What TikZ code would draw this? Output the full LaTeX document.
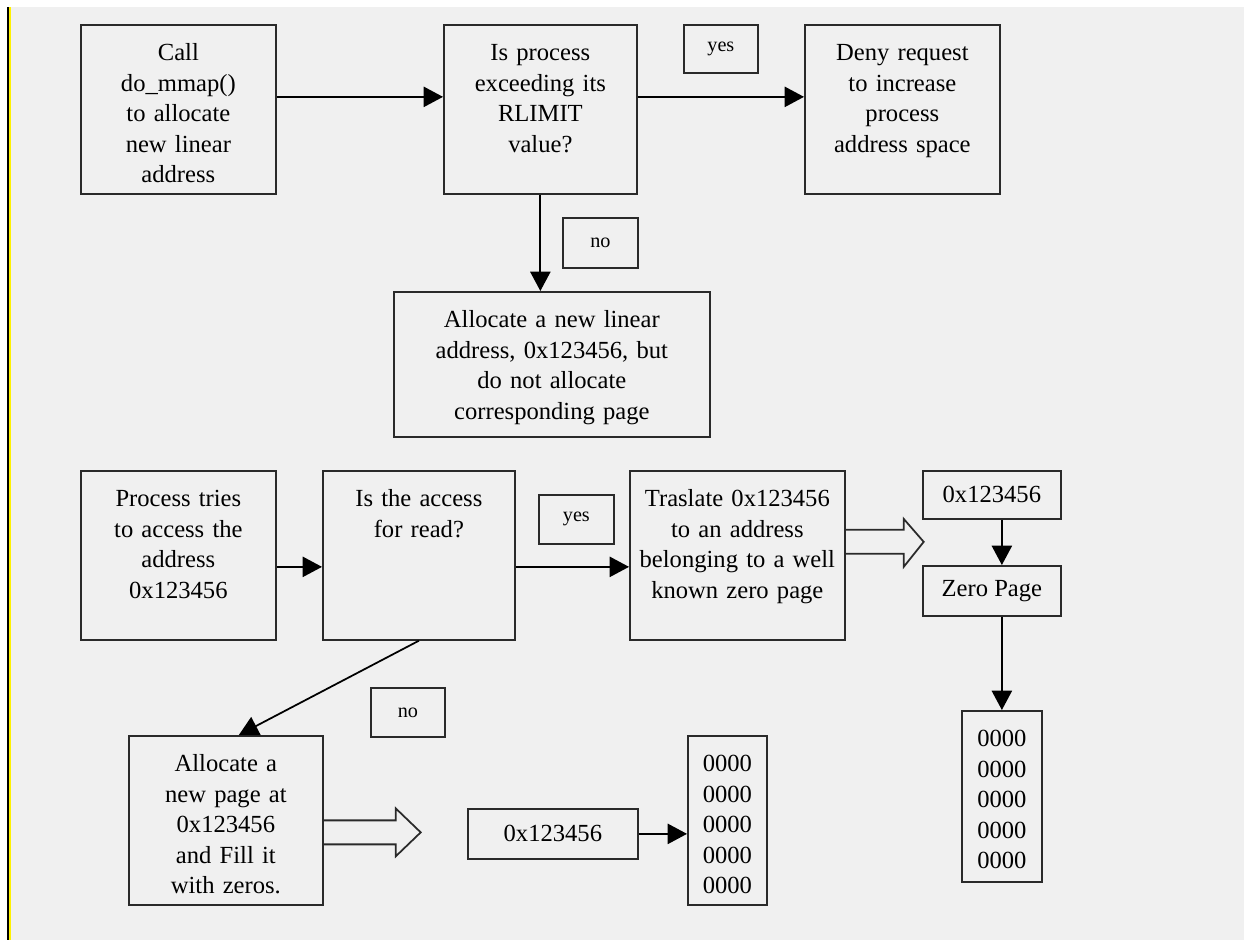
\documentclass[tikz,border=0pt]{standalone}
\usepackage{fontspec}
\setmainfont{Liberation Serif}
\usepackage{tikz}
\usetikzlibrary{arrows.meta,calc}

\definecolor{panel}{HTML}{F0F0F0}
\definecolor{edge}{HTML}{2A2A2A}

\begin{document}
\begin{tikzpicture}[x=0.02cm, y=-0.02cm,
  box/.style={draw=edge, line width=1pt, anchor=north west, align=center,
    inner sep=0pt, text height=0.72cm, font=\fontsize{14}{17.3}\selectfont},
  cell/.style={draw=edge, line width=1pt, anchor=north west, inner sep=0pt,
    font=\fontsize{14}{17.3}\selectfont},
  tag/.style={draw=edge, line width=1pt, anchor=north west, inner sep=0pt,
    font=\fontsize{11.5}{13}\selectfont},
  flow/.style={draw=black, line width=1pt, -{Triangle[length=11pt,width=11.5pt]}},
  hollow/.style={draw=edge, line width=1pt, line join=miter}]
  \useasboundingbox (0,0) rectangle (1244,940);
  \fill[white] (0,0) rectangle (1244,940);
  \fill[panel] (10,7) rectangle (1244,940);
  \fill[yellow] (8.5,7) rectangle (11,940);
  \fill[black] (7,7) rectangle (8.5,940);

  % mmap request
  \node[box, text width=3.9cm, text depth=2.66cm] (call) at (80,24)
    {Call\\do\_mmap()\\to allocate\\new linear\\address};
  \node[box, text width=3.86cm, text depth=2.66cm] (rlimit) at (443,24)
    {Is process\\exceeding its\\RLIMIT\\value?};
  \node[tag, minimum width=1.48cm, minimum height=0.96cm] (yes1) at (683,24) {yes};
  \node[box, text width=3.9cm, text depth=2.66cm] (deny) at (804,24)
    {Deny request\\to increase\\process\\address space};
  \node[tag, minimum width=1.5cm, minimum height=1cm] (no1) at (562,217) {no};
  \node[box, text width=6.32cm, text depth=2.18cm] (linear) at (393,291)
    {Allocate a new linear\\address, 0x123456, but\\do not allocate\\corresponding page};

  \draw[flow] ([yshift=0.25cm]call.east) -- ([yshift=0.25cm]rlimit.west);
  \draw[flow] ([yshift=0.25cm]rlimit.east) -- ([yshift=0.25cm]deny.west);
  \draw[flow] (rlimit.south) -- (rlimit.south |- linear.north);

  % access to the address
  \node[box, text width=3.9cm, text depth=2.66cm] (proc) at (80,470)
    {Process tries\\to access the\\address\\0x123456};
  \node[box, text width=3.84cm, text depth=2.66cm] (access) at (322,470)
    {Is the access\\for read?};
  \node[tag, minimum width=1.5cm, minimum height=0.98cm] (yes2) at (538,494) {yes};
  \node[box, text width=4.3cm, text depth=2.66cm] (trans) at (629,470)
    {Traslate 0x123456\\to an address\\belonging to a well\\known zero page};
  \node[cell, minimum width=2.76cm, minimum height=0.96cm] (addr1) at (922,470) {0x123456};
  \node[cell, minimum width=2.76cm, minimum height=1cm] (zpage) at (922,565) {Zero Page};
  \node[box, text width=1.6cm, text depth=2.7cm] (zeros1) at (961,710)
    {0000\\0000\\0000\\0000\\0000};
  \node[tag, minimum width=1.48cm, minimum height=0.98cm] (no2) at (370,687) {no};
  \node[box, text width=3.88cm, text depth=2.66cm] (page) at (128,735)
    {Allocate a\\new page at\\0x123456\\and Fill it\\with zeros.};
  \node[cell, minimum width=3.4cm, minimum height=1cm] (addr2) at (467,808) {0x123456};
  \node[box, text width=1.58cm, text depth=2.66cm] (zeros2) at (687,735)
    {0000\\0000\\0000\\0000\\0000};

  \draw[flow] ([yshift=-0.23cm]proc.east) -- ([yshift=-0.23cm]access.west);
  \draw[flow] ([yshift=-0.23cm]access.east) -- ([yshift=-0.23cm]trans.west);
  \draw[flow] (access.south) -- ([xshift=0.26cm]page.north);
  \draw[flow] (addr1.south -| zeros1.north) -- (zpage.north -| zeros1.north);
  \draw[flow] (zpage.south -| zeros1.north) -- (zeros1.north);
  \draw[flow] (addr2.east) -- (addr2.east -| zeros2.west);

  % open arrows
  \draw[hollow] ($(trans.east)+(0,-25.5)$) -- ++(58,0) -- ++(0,-11) -- ++(20,23)
    -- ++(-20,25) -- ++(0,-13) -- ++(-58,0);
  \draw[hollow] (page.east) -- ++(72,0) -- ++(0,-12) -- ++(25,24)
    -- ++(-25,24) -- ++(0,-12) -- ++(-72,0);
\end{tikzpicture}
\end{document}
